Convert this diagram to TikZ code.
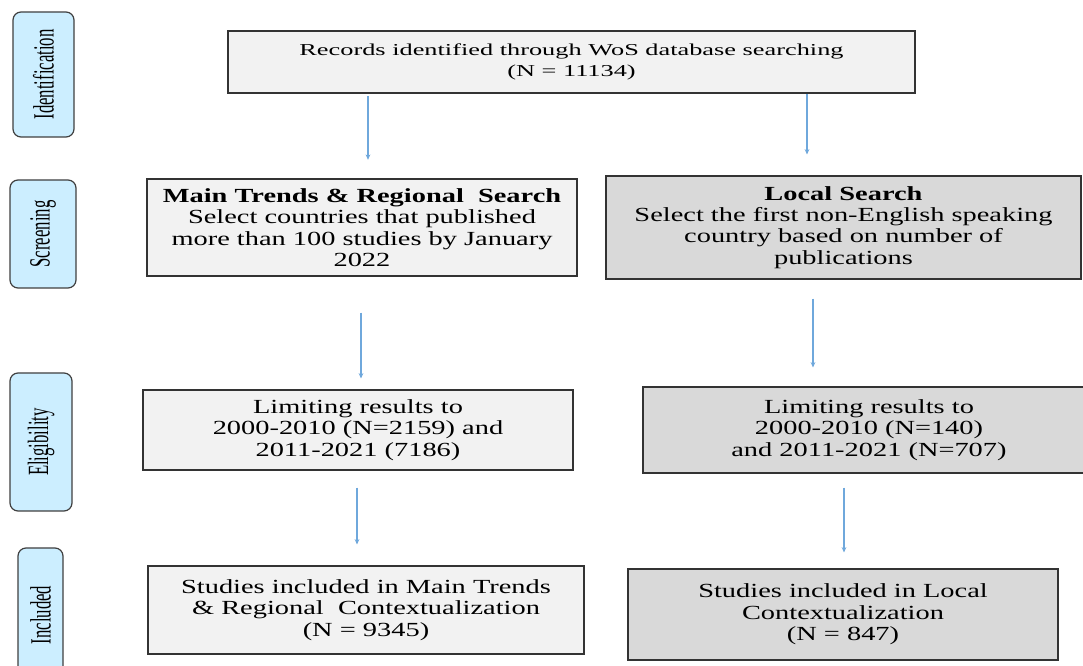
\documentclass[tikz,border=0pt]{standalone}
\usepackage{fontspec}
\setmainfont{Liberation Serif}
\newfontfamily\topfont[FakeStretch=1.58]{Liberation Serif}
\newfontfamily\boxfont[FakeStretch=1.42]{Liberation Serif}
\newfontfamily\tagfont[FakeStretch=0.57]{Liberation Serif}
\usetikzlibrary{arrows.meta}
\definecolor{tagblue}{HTML}{CCEEFF}
\definecolor{lightbox}{HTML}{F2F2F2}
\definecolor{darkbox}{HTML}{D9D9D9}
\definecolor{flowblue}{HTML}{6FA8DC}

\begin{document}
\begin{tikzpicture}[x=0.75pt, y=-0.75pt,
    tag/.style={draw=black!75, line width=0.9pt, fill=tagblue, rounded corners=6pt,
      rotate=90, inner sep=0pt, font=\tagfont\fontsize{22}{23}\selectfont},
    stage/.style={draw=black!80, line width=0.8pt, inner sep=2pt, align=center,
      font=\boxfont\fontsize{15}{16}\selectfont},
    flow/.style={flowblue, line width=0.8pt, -{Stealth[length=4pt, width=3.5pt]}}]
      \fill[white] (0,0) rectangle (1083,666);
      \useasboundingbox (0,0) rectangle (1083,666);

      % phase tags on the left
      \node[tag, minimum width=93.75pt, minimum height=45.75pt] (ident) at (43.5,74.5) {Identification};
      \node[tag, minimum width=81pt, minimum height=49.5pt] (screen) at (43,234) {Screening};
      \node[tag, minimum width=103.5pt, minimum height=46.5pt] (elig) at (41,442) {Eligibility};
      \node[tag, minimum width=100.5pt, minimum height=33.75pt] (incl) at (40.5,615) {Included};

      % boxes
      \node[stage, fill=lightbox, minimum width=515.25pt, minimum height=46.5pt,
        font=\topfont\fontsize{12.5}{15.75}\selectfont] (records) at (571.5,62)
        {Records identified through WoS database searching\\(N = 11134)};

      \node[stage, fill=lightbox, minimum width=322.5pt, minimum height=72.75pt] (mainscr) at (362,227.5)
        {\textbf{Main Trends \& Regional\ \ Search}\\Select countries that published\\more than 100 studies by January\\2022};
      \node[stage, fill=darkbox, minimum width=356.25pt, minimum height=77.25pt] (localscr) at (843.5,227.5)
        {\textbf{Local Search}\\Select the first non-English speaking\\country based on number of\\publications};

      \node[stage, fill=lightbox, minimum width=322.5pt, minimum height=60pt] (maineli) at (358,430)
        {Limiting results to\\2000-2010 (N=2159) and\\2011-2021 (7186)};
      \node[stage, fill=darkbox, minimum width=339pt, minimum height=64.5pt] (localeli) at (869,430)
        {Limiting results to\\2000-2010 (N=140)\\and 2011-2021 (N=707)};

      \node[stage, fill=lightbox, minimum width=327pt, minimum height=66pt] (maininc) at (366,610)
        {Studies included in Main Trends\\\& Regional\ \ Contextualization\\(N = 9345)};
      \node[stage, fill=darkbox, minimum width=322.5pt, minimum height=68.25pt] (localinc) at (843,614.5)
        {Studies included in Local\\Contextualization\\(N = 847)};

      % arrow columns
      \coordinate (colA) at (368,0);
      \coordinate (colB) at (807,0);
      \coordinate (colC) at (361,0);
      \coordinate (colD) at (813,0);
      \coordinate (colE) at (357,0);
      \coordinate (colF) at (844,0);

      \draw[flow, shorten <=2pt, shorten >=14pt] (records.south -| colA) -- (mainscr.north -| colA);
      \draw[flow, shorten <=0.5pt, shorten >=15.75pt] (records.south -| colB) -- (localscr.north -| colB);
      \draw[flow, shorten <=27pt, shorten >=8.25pt] (mainscr.south -| colC) -- (maineli.north -| colC);
      \draw[flow, shorten <=14.25pt, shorten >=14.25pt] (localscr.south -| colD) -- (localeli.north -| colD);
      \draw[flow, shorten <=12.75pt, shorten >=15.75pt] (maineli.south -| colE) -- (maininc.north -| colE);
      \draw[flow, shorten <=10.5pt, shorten >=12pt] (localeli.south -| colF) -- (localinc.north -| colF);
    \end{tikzpicture}
\end{document}
